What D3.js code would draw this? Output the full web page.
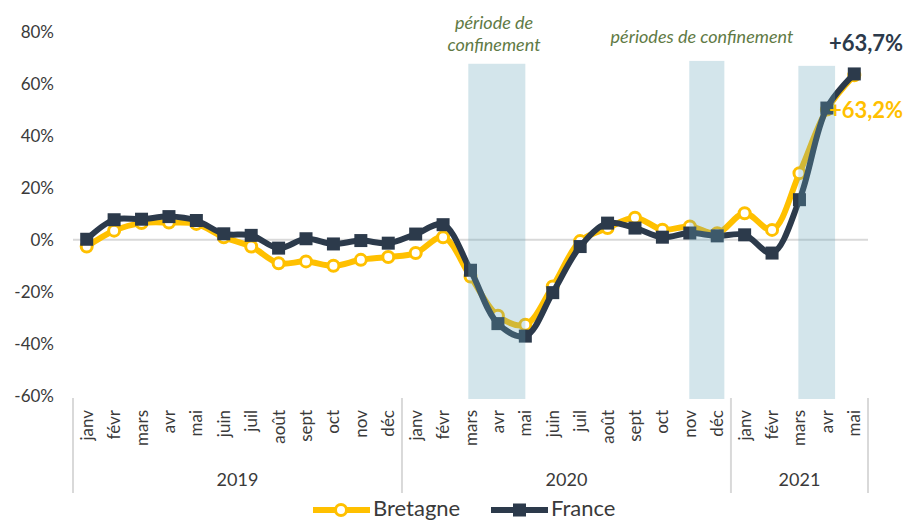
<!DOCTYPE html>
<html>
<head>
<meta charset="utf-8">
<script src="https://cdn.jsdelivr.net/npm/d3@7"></script>
<style>
  body { margin: 0; background: #fff; }
  svg { display: block; font-family: Lato, "Open Sans", sans-serif; }
</style>
</head>
<body>
<svg id="chart" width="907" height="522"></svg>
<script>
const months = [
  "janv", "févr", "mars", "avr", "mai", "juin", "juil", "août", "sept", "oct", "nov", "déc",
  "janv", "févr", "mars", "avr", "mai", "juin", "juil", "août", "sept", "oct", "nov", "déc",
  "janv", "févr", "mars", "avr", "mai"
];
const years = ["2019", "2020", "2021"];
const yearCounts = [12, 12, 5];

const bretagne = [
  -2.6, 3.5, 6.4, 6.6, 6.1, 1.0, -2.6, -9.0, -8.3, -10.0, -7.7, -6.6,
  -5.1, 1.0, -14.1, -29.2, -32.6, -17.9, -0.5, 4.5, 8.5, 3.9, 5.1, 2.5,
  10.2, 3.8, 25.6, 50.0, 63.2
];
const france = [
  0.2, 7.7, 7.9, 8.9, 7.4, 2.3, 1.7, -3.2, 0.4, -1.6, -0.3, -1.3,
  2.2, 5.8, -11.7, -32.2, -37.0, -20.3, -2.6, 6.4, 4.5, 1.0, 2.6, 1.5,
  1.9, -5.1, 15.4, 50.6, 63.7
];
const yTicks = [-60, -40, -20, 0, 20, 40, 60, 80];

// lockdown periods, in month-index units, with the top of each shaded band (%)
const lockStart = [14.42, 22.48, 26.46];
const lockEnd = [16.5, 23.76, 27.8];
const lockTop = [67.6, 68.7, 66.8];

const yellow = "#FFC000";
const navy = "#2C3A4B";
const gridGrey = "#d9d9d9";
const textGrey = "#3a3a3a";

const svg = d3.select("#chart");
const left = 73, right = 868;

const x = d3.scaleBand().domain(d3.range(months.length)).range([left, right]);
const xi = d3.scaleLinear().domain([0, months.length]).range([left, right]);
const y = d3.scaleLinear().domain([-60, 80]).range([396, 31.5]);
const cx = (i) => x(i) + x.bandwidth() / 2;

// y tick labels
svg.append("g")
  .selectAll("text")
  .data(yTicks)
  .join("text")
  .attr("x", 54)
  .attr("y", (d) => y(d))
  .attr("dy", "0.36em")
  .style("text-anchor", "end")
  .style("font-size", "17px")
  .style("fill", textGrey)
  .text((d) => d + "%");

// zero line
svg.append("line")
  .attr("x1", left).attr("x2", right)
  .attr("y1", y(0)).attr("y2", y(0))
  .style("stroke", gridGrey)
  .style("stroke-width", 2);

// category axis separators
const bounds = [0];
yearCounts.forEach((n, i) => bounds.push(bounds[i] + n));
svg.append("g")
  .selectAll("line")
  .data(bounds)
  .join("line")
  .attr("x1", (d) => xi(d)).attr("x2", (d) => xi(d))
  .attr("y1", 398).attr("y2", 493)
  .style("stroke", gridGrey)
  .style("stroke-width", 2);

// month labels
svg.append("g")
  .selectAll("text")
  .data(months)
  .join("text")
  .attr("transform", (d, i) => `translate(${cx(i) + 6},410) rotate(-90)`)
  .style("text-anchor", "end")
  .style("font-size", "17px")
  .style("fill", textGrey)
  .text((d) => d);

// year labels
svg.append("g")
  .selectAll("text")
  .data(years)
  .join("text")
  .attr("x", (d, i) => (xi(bounds[i]) + xi(bounds[i + 1])) / 2)
  .attr("y", 486)
  .style("text-anchor", "middle")
  .style("font-size", "18px")
  .style("fill", textGrey)
  .text((d) => d);

const line = d3.line()
  .x((d, i) => cx(i))
  .y((d) => y(d))
  .curve(d3.curveCatmullRom.alpha(0.5));

// Bretagne
svg.append("path")
  .datum(bretagne)
  .attr("d", line)
  .style("fill", "none")
  .style("stroke", yellow)
  .style("stroke-width", 6)
  .style("stroke-linejoin", "round");
svg.append("g")
  .selectAll("circle")
  .data(bretagne)
  .join("circle")
  .attr("cx", (d, i) => cx(i))
  .attr("cy", (d) => y(d))
  .attr("r", 5.5)
  .style("fill", "#fff")
  .style("stroke", yellow)
  .style("stroke-width", 3);

// France
svg.append("path")
  .datum(france)
  .attr("d", line)
  .style("fill", "none")
  .style("stroke", navy)
  .style("stroke-width", 6)
  .style("stroke-linejoin", "round");
svg.append("g")
  .selectAll("rect")
  .data(france)
  .join("rect")
  .attr("x", (d, i) => cx(i) - 6.5)
  .attr("y", (d) => y(d) - 6.5)
  .attr("width", 13)
  .attr("height", 13)
  .style("fill", navy);

// lockdown bands (drawn over the lines, translucent)
svg.append("g")
  .selectAll("rect")
  .data(lockStart)
  .join("rect")
  .attr("x", (d) => xi(d))
  .attr("width", (d, i) => xi(lockEnd[i]) - xi(d))
  .attr("y", (d, i) => y(lockTop[i]))
  .attr("height", (d, i) => y(-60) + 3 - y(lockTop[i]))
  .style("fill", "#67a7b9")
  .style("opacity", 0.29);

// annotations
const note = svg.append("g")
  .style("font-style", "italic")
  .style("font-size", "18px")
  .style("fill", "#5f7a45")
  .style("text-anchor", "middle");
note.append("text").attr("x", 494).attr("y", 29).text("période de");
note.append("text").attr("x", 494).attr("y", 51).text("confinement");
note.append("text").attr("x", 702).attr("y", 43).text("périodes de confinement");

svg.append("text")
  .attr("x", 866).attr("y", 51)
  .style("text-anchor", "middle")
  .style("font-weight", "bold")
  .style("font-size", "22px")
  .style("fill", navy)
  .text("+63,7%");
svg.append("text")
  .attr("x", 866).attr("y", 118)
  .style("text-anchor", "middle")
  .style("font-weight", "bold")
  .style("font-size", "22px")
  .style("fill", yellow)
  .text("+63,2%");

// legend
const legend = svg.append("g");
legend.append("line")
  .attr("x1", 313).attr("x2", 370).attr("y1", 510).attr("y2", 510)
  .style("stroke", yellow).style("stroke-width", 6);
legend.append("circle")
  .attr("cx", 341).attr("cy", 510).attr("r", 5.5)
  .style("fill", "#fff").style("stroke", yellow).style("stroke-width", 3);
legend.append("text")
  .attr("x", 373).attr("y", 516)
  .style("font-size", "22px").style("fill", textGrey)
  .text("Bretagne");
legend.append("line")
  .attr("x1", 491).attr("x2", 548).attr("y1", 510).attr("y2", 510)
  .style("stroke", navy).style("stroke-width", 6);
legend.append("rect")
  .attr("x", 513).attr("y", 503.5).attr("width", 13).attr("height", 13)
  .style("fill", navy);
legend.append("text")
  .attr("x", 551).attr("y", 516)
  .style("font-size", "22px").style("fill", textGrey)
  .text("France");
</script>
</body>
</html>
